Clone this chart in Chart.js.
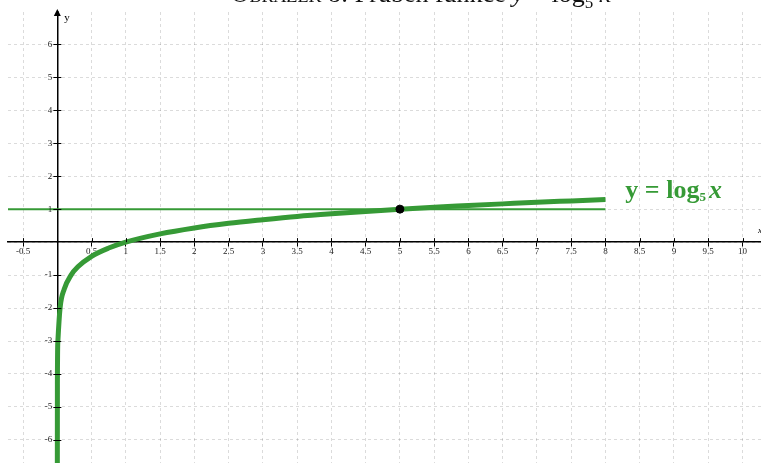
<!DOCTYPE html>
<html>
<head>
<meta charset="utf-8">
<script src="https://cdn.jsdelivr.net/npm/chart.js@4.4.0/dist/chart.umd.min.js"></script>
<style>
    body { margin: 0; background: #fff; }
    #wrap { position: relative; width: 761px; height: 463px; overflow: hidden; }
    #title {
        position: absolute; left: 0; width: 842px; top: -19px;
        text-align: center; font: 26px 'Liberation Serif', 'DejaVu Serif', serif; line-height: 26px; color: #111;
        white-space: nowrap; pointer-events: none;
    }
</style>
</head>
<body>
<div id="wrap">
    <canvas id="plot"></canvas>
    <div id="title"><span style="font-variant: small-caps">Obrázek 8:</span> Průběh funkce <i>y</i> = log<sub style="font-size:17px; line-height:0">5</sub> <i>x</i></div>
</div>
<script>
// values
const curveX = [0.00001, 0.001, 0.008, 0.04, 0.1, 0.2, 0.3, 0.5, 0.75, 1, 1.5, 2, 2.5, 3, 3.5, 4, 4.5, 5, 5.5, 6, 6.5, 7, 7.5, 8];
const curveY = [-7.2, -4.3, -3.0, -2.0, -1.43, -1.0, -0.75, -0.43, -0.18, 0, 0.25, 0.43, 0.57, 0.68, 0.78, 0.86, 0.93, 1, 1.06, 1.11, 1.16, 1.21, 1.25, 1.29];
const levelX = [-0.72, 8];
const levelY = [1, 1];
const markX = [5];
const markY = [1];

const xMin = -0.72, xMax = 10.27;
const yMin = -6.7, yMax = 6.98;

const green = '#369a36';
const tickFont = '9px "Liberation Serif", serif';
const pts = (xs, ys) => xs.map((x, i) => ({ x: x, y: ys[i] }));
const noPadding = s => { s.paddingLeft = s.paddingRight = s.paddingTop = s.paddingBottom = 0; };

const decorations = {
    id: 'decorations',
    afterDraw(chart) {
        const ctx = chart.ctx;
        const sx = chart.scales.x, sy = chart.scales.y;
        const ox = sx.getPixelForValue(0);
        const oy = sy.getPixelForValue(0);
        const top = chart.chartArea.top;
        ctx.save();
        // tick marks crossing the axes
        ctx.strokeStyle = '#000';
        ctx.lineWidth = 1;
        ctx.beginPath();
        sx.ticks.forEach(t => {
            if (t.value === 0) return;
            const p = Math.round(sx.getPixelForValue(t.value)) + 0.5;
            ctx.moveTo(p, oy - 4);
            ctx.lineTo(p, oy);
        });
        sy.ticks.forEach(t => {
            if (t.value === 0) return;
            const p = Math.round(sy.getPixelForValue(t.value)) + 0.5;
            ctx.moveTo(ox - 4, p);
            ctx.lineTo(ox + 4, p);
        });
        ctx.stroke();
        // y tick labels, left of the axis
        ctx.fillStyle = '#222';
        ctx.font = tickFont;
        ctx.textAlign = 'right';
        ctx.textBaseline = 'middle';
        sy.ticks.forEach(t => {
            if (t.value === 0) return;
            ctx.fillText(String(t.value), ox - 5, sy.getPixelForValue(t.value));
        });
        ctx.textAlign = 'left';
        // arrow on y axis
        ctx.fillStyle = '#000';
        ctx.beginPath();
        ctx.moveTo(ox, top - 3);
        ctx.lineTo(ox - 3.5, top + 4);
        ctx.lineTo(ox + 3.5, top + 4);
        ctx.closePath();
        ctx.fill();
        // axis names
        ctx.font = '11px "Liberation Serif", serif';
        ctx.fillText('y', ox + 7, top + 6);
        ctx.font = 'italic 9px "Liberation Serif", serif';
        ctx.fillText('x', chart.chartArea.right - 3, oy - 11);
        // function label
        let px = sx.getPixelForValue(8.29);
        const py = sy.getPixelForValue(1.33);
        ctx.fillStyle = green;
        ctx.textBaseline = 'alphabetic';
        ctx.font = 'bold 26px "Liberation Serif", serif';
        ctx.fillText('y = log', px, py);
        px += ctx.measureText('y = log').width;
        ctx.font = 'bold 13px "Liberation Serif", serif';
        ctx.fillText('5', px, py + 3);
        px += ctx.measureText('5').width + 3;
        ctx.font = 'bold italic 26px "Liberation Serif", serif';
        ctx.fillText('x', px, py);
        ctx.restore();
    }
};

new Chart(document.getElementById('plot'), {
    type: 'scatter',
    data: {
        datasets: [
            {
                data: pts(curveX, curveY),
                showLine: true,
                borderColor: green,
                borderWidth: 5,
                pointRadius: 0,
                cubicInterpolationMode: 'monotone',
                order: 2
            },
            {
                data: pts(levelX, levelY),
                showLine: true,
                borderColor: green,
                borderWidth: 2,
                pointRadius: 0,
                order: 3
            },
            {
                data: pts(markX, markY),
                pointRadius: 4,
                pointBackgroundColor: '#000',
                pointBorderColor: '#000',
                order: 1
            }
        ]
    },
    options: {
        responsive: true,
        maintainAspectRatio: false,
        animation: false,
        layout: { autoPadding: false, padding: { left: 8, top: 12, right: 0, bottom: 0 } },
        plugins: {
            legend: { display: false },
            tooltip: { enabled: false }
        },
        scales: {
            x: {
                type: 'linear',
                min: xMin,
                max: xMax,
                position: { y: 0 },
                afterFit: noPadding,
                grid: {
                    color: 'rgba(0, 0, 0, 0.14)',
                    tickColor: '#000',
                    tickLength: 4,
                    lineWidth: 1
                },
                border: { color: '#000', width: 1.5, dash: [3, 3] },
                ticks: {
                    stepSize: 0.5,
                    includeBounds: false,
                    autoSkip: false,
                    maxRotation: 0,
                    padding: 0,
                    color: '#222',
                    font: { family: "'Liberation Serif', serif", size: 9 },
                    callback: v => (v === 0 ? '' : String(v))
                }
            },
            y: {
                type: 'linear',
                min: yMin,
                max: yMax,
                position: { x: 0 },
                afterFit: noPadding,
                grid: {
                    color: 'rgba(0, 0, 0, 0.14)',
                    drawTicks: false,
                    lineWidth: 1
                },
                border: { color: '#000', width: 1.5, dash: [3, 3] },
                ticks: {
                    display: false,
                    stepSize: 1,
                    includeBounds: false,
                    autoSkip: false
                }
            }
        }
    },
    plugins: [decorations]
});
</script>
</body>
</html>
